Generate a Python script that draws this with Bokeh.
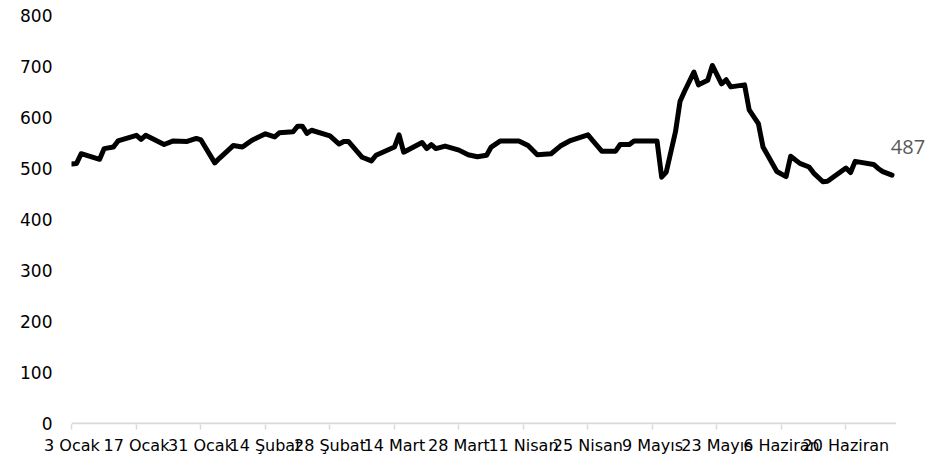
import pandas as pd
from bokeh.plotting import figure
from bokeh.models import FixedTicker, Label, Range1d
from bokeh.embed import file_html
from bokeh.resources import INLINE

# ---- data ----
dates = [
    "2022-01-03", "2022-01-04", "2022-01-05", "2022-01-09", "2022-01-10", "2022-01-12",
    "2022-01-13", "2022-01-17", "2022-01-18", "2022-01-19", "2022-01-23", "2022-01-25",
    "2022-01-28", "2022-01-30", "2022-01-31", "2022-02-03", "2022-02-04", "2022-02-07",
    "2022-02-09", "2022-02-11", "2022-02-14", "2022-02-16", "2022-02-17", "2022-02-20",
    "2022-02-21", "2022-02-22", "2022-02-23", "2022-02-24", "2022-02-28", "2022-03-02",
    "2022-03-03", "2022-03-04", "2022-03-07", "2022-03-09", "2022-03-10", "2022-03-14",
    "2022-03-15", "2022-03-16", "2022-03-20", "2022-03-21", "2022-03-22", "2022-03-23",
    "2022-03-25", "2022-03-28", "2022-03-30", "2022-04-01", "2022-04-03", "2022-04-04",
    "2022-04-06", "2022-04-10", "2022-04-12", "2022-04-14", "2022-04-17", "2022-04-19",
    "2022-04-21", "2022-04-22", "2022-04-25", "2022-04-26", "2022-04-28", "2022-05-01",
    "2022-05-02", "2022-05-04", "2022-05-05", "2022-05-09", "2022-05-10", "2022-05-11",
    "2022-05-12", "2022-05-14", "2022-05-15", "2022-05-16", "2022-05-18", "2022-05-19",
    "2022-05-21", "2022-05-22", "2022-05-24", "2022-05-25", "2022-05-26", "2022-05-29",
    "2022-05-30", "2022-06-01", "2022-06-02", "2022-06-05", "2022-06-07", "2022-06-08",
    "2022-06-10", "2022-06-12", "2022-06-13", "2022-06-15", "2022-06-16", "2022-06-20",
    "2022-06-21", "2022-06-22", "2022-06-26", "2022-06-27", "2022-06-28", "2022-06-30",
]
values = [
    509, 510, 529, 518, 539, 542,
    554, 565, 557, 565, 547, 554,
    553, 559, 556, 511, 520, 545,
    542, 555, 568, 562, 570, 572,
    583, 583, 569, 575, 564, 548,
    553, 553, 522, 515, 526, 542,
    566, 532, 551, 539, 547, 539,
    544, 536, 527, 523, 526, 542,
    554, 554, 545, 527, 529, 544,
    554, 557, 566, 555, 534, 534,
    547, 547, 554, 554, 554, 483,
    493, 572, 632, 652, 689, 664,
    673, 702, 666, 674, 660, 664,
    615, 588, 542, 494, 484, 524,
    510, 503, 491, 474, 475, 501,
    492, 514, 508, 500, 494, 487,
]
tick_dates = ["2022-01-03", "2022-01-17", "2022-01-31", "2022-02-14", "2022-02-28",
              "2022-03-14", "2022-03-28", "2022-04-11", "2022-04-25", "2022-05-09",
              "2022-05-23", "2022-06-06", "2022-06-20"]
tick_labels = ["3 Ocak", "17 Ocak", "31 Ocak", "14 Şubat", "28 Şubat", "14 Mart",
               "28 Mart", "11 Nisan", "25 Nisan", "9 Mayıs", "23 Mayıs", "6 Haziran",
               "20 Haziran"]
y_ticks = [0, 100, 200, 300, 400, 500, 600, 700, 800]
last_label = "487"

DAY = 86400000.0
def ms(d):
    return pd.Timestamp(d).value / 1e6

xs = [ms(d) for d in dates]
x0 = xs[0]
x_axis_start = x0 - 0.1 * DAY
x_axis_end = xs[-1] + 0.9 * DAY

W, H = 945, 459
LEFT, TOP, BOTTOM = 71, 15, 35
frame_w = W - LEFT
px_per_day = 4.607
p = figure(width=W, height=H,
           output_backend="svg", toolbar_location=None,
           x_range=Range1d(x_axis_start, x_axis_start + frame_w / px_per_day * DAY),
           y_range=Range1d(-2, 800),
           min_border_left=LEFT, min_border_right=0,
           min_border_top=TOP, min_border_bottom=BOTTOM)
p.outline_line_color = None
p.grid.grid_line_color = None
p.background_fill_color = "white"
p.border_fill_color = "white"

# category-axis baseline, ends at the last date like the original
p.line([x_axis_start, x_axis_end], [0, 0], line_color="#d9d9d9", line_width=2)

p.line(xs, values, line_color="black", line_width=5, line_join="round", line_cap="round")

# x axis
tick_ms = [ms(d) for d in tick_dates]
xa = p.xaxis[0]
xa.axis_label = None
xa.ticker = FixedTicker(ticks=tick_ms)
xa.major_label_overrides = {t: l for t, l in zip(tick_ms, tick_labels)}
xa.minor_tick_line_color = None
xa.axis_line_color = None
xa.major_tick_line_color = "#d9d9d9"
xa.major_tick_line_width = 1.5
xa.major_tick_in = 0
xa.major_tick_out = 5
xa.major_label_standoff = 6
xa.major_label_text_font = "DejaVu Sans"
xa.major_label_text_font_size = "16px"
xa.major_label_text_color = "black"

# y axis
ya = p.yaxis[0]
ya.axis_label = None
ya.ticker = FixedTicker(ticks=y_ticks)
ya.minor_tick_line_color = None
ya.axis_line_color = None
ya.major_tick_line_color = None
ya.major_tick_in = 0
ya.major_tick_out = 0
ya.major_label_standoff = 19
ya.major_label_text_font = "DejaVu Sans"
ya.major_label_text_font_size = "17px"
ya.major_label_text_color = "black"

lab = Label(x=xs[-1], y=values[-1], text=last_label,
            x_offset=16, y_offset=28, text_align="center", text_baseline="middle",
            text_font="Open Sans", text_font_size="20px", text_color="#595959")
p.add_layout(lab)

open("out.html", "w").write(file_html(p, INLINE))
